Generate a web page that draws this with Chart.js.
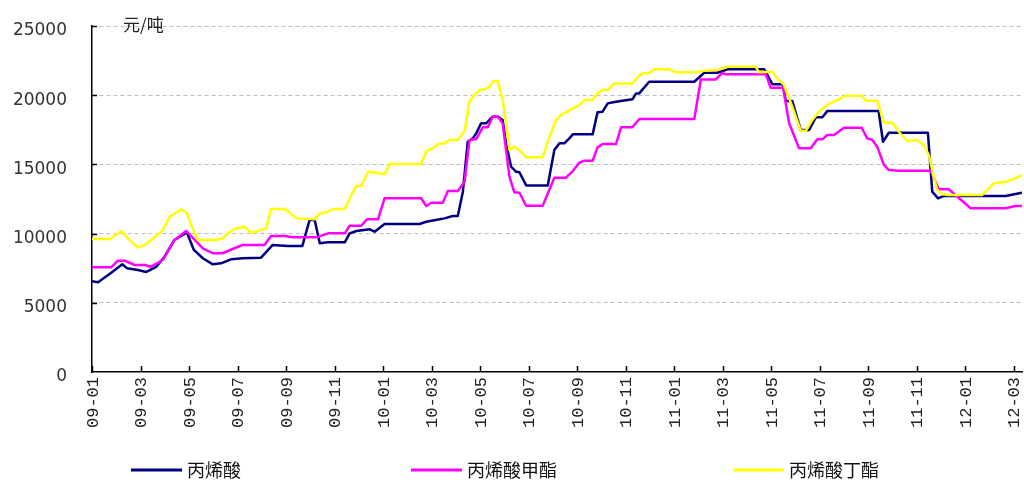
<!DOCTYPE html>
<html>
<head>
<meta charset="utf-8">
<script src="https://cdn.jsdelivr.net/npm/chart.js@4/dist/chart.umd.min.js"></script>
<style>
html,body{margin:0;padding:0;background:#fff;}
#wrap{width:1024px;height:482px;position:relative;}
</style>
</head>
<body>
<div id="wrap"><canvas id="c" width="1024" height="482"></canvas></div>
<script>
// ---- data (x = months since 2009-01) ----
const xTickLabels = ['09-01','09-03','09-05','09-07','09-09','09-11','10-01','10-03','10-05','10-07',
  '10-09','10-11','11-01','11-03','11-05','11-07','11-09','11-11','12-01','12-03'];
const yTickValues = [0, 5000, 10000, 15000, 20000, 25000];
const seriesNames = ['丙烯酸', '丙烯酸甲酯', '丙烯酸丁酯'];
const unitLabel = '元/吨';

const acidMonths = [0,0.25,0.78,1.25,1.45,1.89,2.24,2.65,2.99,3.40,3.91,4.20,4.57,4.98,5.32,5.73,6.22,6.97,7.45,8.07,8.67,8.97,9.18,9.39,9.73,10.42,10.62,10.90,11.45,11.65,12.06,13.50,13.78,14.33,14.53,14.87,15.08,15.29,15.49,15.70,15.84,16.04,16.25,16.52,16.73,16.93,17.07,17.28,17.48,17.62,17.90,18.79,19.06,19.27,19.47,19.68,19.82,20.64,20.84,21.05,21.26,21.60,22.28,22.43,22.56,22.97,24.83,25.24,25.78,26.20,27.71,27.80,28.05,28.49,28.60,28.87,29.22,29.56,29.84,30.11,30.31,32.43,32.61,32.85,34.46,34.64,34.88,35.12,37.66,38.34];
const acidPrices = [6550,6480,7150,7780,7490,7370,7230,7600,8330,9540,10090,8820,8220,7780,7850,8140,8220,8260,9180,9100,9100,10980,10980,9300,9370,9370,10020,10190,10310,10140,10690,10690,10860,11030,11100,11270,11270,13030,16640,16880,17240,17970,17970,18450,18450,18210,16520,14830,14470,14430,13480,13480,16040,16520,16520,16880,17170,17170,18760,18810,19410,19530,19700,20130,20130,20970,20970,21620,21620,21870,21870,21620,20790,20790,19580,19580,17480,17480,18400,18400,18850,18850,16640,17290,17290,13030,12550,12720,12720,12950];

const methylMonths = [0,0.79,1.07,1.35,1.76,2.17,2.44,2.92,3.40,3.88,4.57,4.98,5.39,5.87,6.22,7.11,7.38,7.93,8.29,9.25,9.73,10.42,10.62,11.10,11.33,11.79,12.06,13.57,13.78,13.99,14.46,14.67,15.08,15.36,15.56,15.84,16.11,16.32,16.52,16.73,16.93,17.07,17.21,17.41,17.62,17.90,18.58,19.06,19.54,19.82,20.09,20.30,20.64,20.84,21.05,21.60,21.81,22.28,22.56,24.83,25.10,25.72,25.99,26.13,27.78,27.98,28.49,28.74,29.15,29.63,29.90,30.11,30.31,30.59,31.00,31.73,31.96,32.17,32.37,32.65,32.85,33.26,34.57,34.91,35.32,36.22,37.66,38.07,38.34];
const methylPrices = [7560,7560,8040,8040,7730,7730,7610,8090,9540,10190,8940,8580,8580,8940,9180,9180,9830,9830,9730,9730,10020,10020,10570,10570,11030,11030,12550,12550,11990,12230,12230,13080,13080,13750,16760,16830,17680,17680,18450,18450,17970,16040,14110,12980,12950,12010,12010,14040,14040,14520,15120,15270,15270,16230,16470,16470,17680,17680,18280,18280,21140,21140,21620,21510,21510,20540,20540,17970,16160,16160,16810,16810,17120,17120,17650,17650,16880,16760,16280,14960,14590,14540,14540,13200,13200,11830,11830,11990,11990];

const butylMonths = [0,0.73,0.93,1.21,1.48,1.89,2.17,2.44,2.92,3.20,3.68,3.91,4.09,4.36,5.12,5.39,5.60,5.87,6.29,6.56,6.83,7.18,7.38,7.95,8.43,9.18,9.39,9.73,9.93,10.42,10.69,10.90,11.10,11.38,11.72,12.06,12.27,13.57,13.78,14.05,14.26,14.53,14.74,15.08,15.36,15.56,15.77,15.97,16.18,16.39,16.55,16.73,16.93,17.07,17.21,17.41,17.62,17.90,18.58,18.86,19.13,19.34,19.54,19.82,20.09,20.30,20.64,20.84,21.05,21.26,21.53,22.28,22.49,22.70,22.97,23.18,23.80,24.07,24.83,25.24,25.78,26.20,27.36,27.50,28.05,28.25,28.53,28.87,29.22,29.43,29.70,30.04,30.38,30.86,31.07,31.73,31.90,32.37,32.65,32.99,33.26,33.61,34.02,34.29,34.50,34.70,34.84,35.05,35.32,36.70,37.18,37.66,38.07,38.34];
const butylPrices = [9610,9610,9850,10190,9660,8990,9180,9540,10260,11220,11750,11510,10620,9540,9540,9660,10020,10330,10500,10060,10190,10380,11780,11780,11100,11030,11460,11580,11780,11780,12790,13440,13440,14470,14400,14280,15030,15030,15970,16160,16470,16520,16760,16760,17410,19530,20010,20370,20430,20610,21020,21020,19650,17970,16040,16280,16040,15510,15510,17000,18210,18570,18760,19050,19290,19650,19650,20130,20370,20370,20850,20850,21290,21580,21580,21870,21870,21650,21650,21770,21820,22060,22060,21650,21700,21220,20740,19170,17430,17430,18210,18930,19360,19770,19960,19960,19600,19600,18010,18010,17360,16690,16760,16400,15680,14110,13200,12840,12790,12790,13630,13750,13990,14230];

const seriesColors = ['#000080', '#FF00FF', '#FFFF00'];

function pts(xs, ys) { return xs.map((x, i) => ({x: x, y: ys[i]})); }

const decor = {
  id: 'decor',
  afterDraw(chart) {
    const ctx = chart.ctx;
    const xs = chart.scales.x, ys = chart.scales.y, a = chart.chartArea;
    ctx.save();
    // inward ticks
    ctx.strokeStyle = '#000';
    ctx.lineWidth = 1.5;
    ys.ticks.forEach(t => {
      if (t.value === 0) return;
      const py = Math.round(ys.getPixelForValue(t.value)) + 0.5;
      ctx.beginPath(); ctx.moveTo(a.left, py); ctx.lineTo(a.left + 5, py); ctx.stroke();
    });
    xs.ticks.forEach(t => {
      const px = Math.round(xs.getPixelForValue(t.value)) + 0.5;
      ctx.beginPath(); ctx.moveTo(px, a.bottom); ctx.lineTo(px, a.bottom - 6); ctx.stroke();
    });
    // rotated x labels (bottom-to-top)
    ctx.fillStyle = '#222';
    ctx.font = '17px "Liberation Mono", "DejaVu Sans Mono", monospace';
    ctx.textAlign = 'right';
    ctx.textBaseline = 'middle';
    xs.ticks.forEach(t => {
      const idx = Math.round(t.value / 2);
      const lab = xTickLabels[idx];
      if (lab === undefined) return;
      const px = xs.getPixelForValue(t.value);
      ctx.save();
      ctx.translate(px + 1, a.bottom + 5);
      ctx.rotate(-Math.PI / 2);
      ctx.fillText(lab, 0, 0);
      ctx.restore();
    });
    // unit label
    ctx.font = '17px "Noto Sans CJK SC", sans-serif';
    ctx.textAlign = 'left';
    ctx.textBaseline = 'middle';
    ctx.fillStyle = '#222';
    ctx.fillText(unitLabel, a.left + 31, 25);
    // legend
    const legX = [131, 411, 733];
    const legY = 470;
    ctx.font = '18px "Noto Sans CJK SC", sans-serif';
    chart.data.datasets.forEach((ds, i) => {
      ctx.strokeStyle = ds.borderColor;
      ctx.lineWidth = 3;
      ctx.beginPath(); ctx.moveTo(legX[i], legY); ctx.lineTo(legX[i] + 51, legY); ctx.stroke();
      ctx.fillStyle = '#111';
      ctx.fillText(ds.label, legX[i] + 56, legY);
    });
    ctx.restore();
  }
};

new Chart(document.getElementById('c'), {
  type: 'line',
  data: {
    datasets: [
      {label: seriesNames[0], data: pts(acidMonths, acidPrices), borderColor: seriesColors[0], order: 2},
      {label: seriesNames[1], data: pts(methylMonths, methylPrices), borderColor: seriesColors[1], order: 1},
      {label: seriesNames[2], data: pts(butylMonths, butylPrices), borderColor: seriesColors[2], order: 0}
    ]
  },
  options: {
    responsive: false,
    animation: false,
    devicePixelRatio: 1,
    layout: {padding: {top: 26, right: 2, left: 0, bottom: 0}},
    elements: {
      line: {borderWidth: 2.5, tension: 0, fill: false, borderJoinStyle: 'round'},
      point: {radius: 0, hoverRadius: 0}
    },
    plugins: {legend: {display: false}, tooltip: {enabled: false}},
    scales: {
      x: {
        type: 'linear',
        min: 0, max: 38.34,
        ticks: {display: false, stepSize: 2, includeBounds: false},
        grid: {display: false},
        border: {display: true, color: '#000', width: 1.5},
        afterFit(s) { s.height = 110; s.paddingLeft = 0; s.paddingRight = 0; }
      },
      y: {
        min: 0, max: 25000,
        afterBuildTicks(s) { s.ticks = yTickValues.map(v => ({value: v})); },
        ticks: {
          padding: 25,
          labelOffset: 5,
          color: '#333',
          font: {family: '"DejaVu Sans", sans-serif', size: 17},
          callback: v => String(v)
        },
        grid: {
          drawTicks: false,
          color: c => (c.tick && c.tick.value === 0) ? 'rgba(0,0,0,0)' : '#bdbdbd',
          lineWidth: 1
        },
        border: {display: true, color: '#000', width: 1.5, dash: [4, 3]},
        afterFit(s) { s.width = 92; s.paddingTop = 0; s.paddingBottom = 0; }
      }
    }
  },
  plugins: [decor]
});
</script>
</body>
</html>
